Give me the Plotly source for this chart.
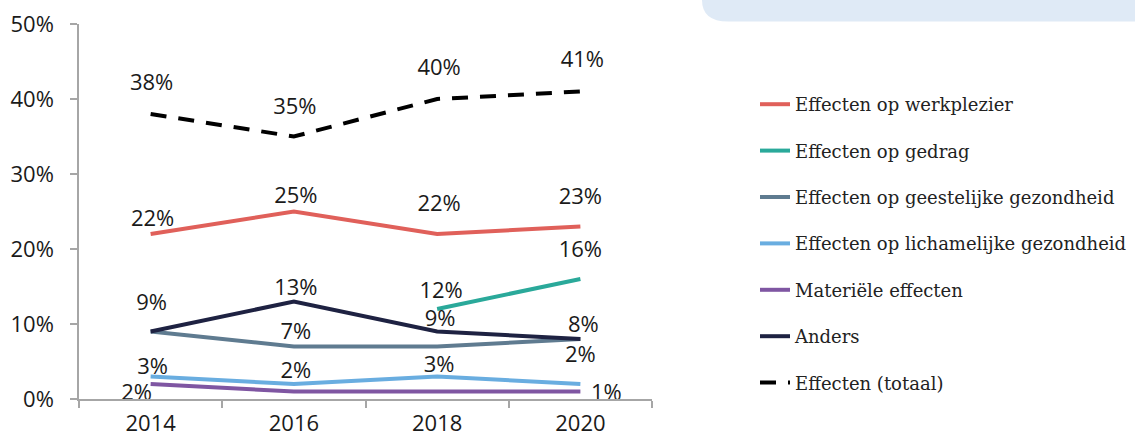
import plotly.graph_objects as go

PCT = "\u0025"

years = [2014, 2016, 2018, 2020]
x_boundaries = [2013, 2015, 2017, 2019, 2021]
series_names = [
    "Effecten op werkplezier",
    "Effecten op gedrag",
    "Effecten op geestelijke gezondheid",
    "Effecten op lichamelijke gezondheid",
    "Materiële effecten",
    "Anders",
    "Effecten (totaal)",
]
werkplezier = [22, 25, 22, 23]
gedrag = [None, None, 12, 16]
geestelijk = [9, 7, 7, 8]
lichamelijk = [3, 2, 3, 2]
materieel = [2, 1, 1, 1]
anders = [9, 13, 9, 8]
totaal = [38, 35, 40, 41]
y_ticks = [0, 10, 20, 30, 40, 50]

series_values = [werkplezier, gedrag, geestelijk, lichamelijk, materieel, anders, totaal]
colors = ["#e0605a", "#2aa99a", "#5f7b90", "#69ade0", "#7f56a2", "#1e2242", "#000000"]
dashes = ["solid"] * 6 + ["16px,12px"]

# label placement offsets in pixels (right, up); None = no label
label_offsets = [
    [(2, 14), (2, 14), (2, 29), (0, 28)],
    [None, None, (4, 17), (0, 28)],
    [None, (2, 13), None, None],
    [(2, 8), (2, 12), (2, 10), (0, 28)],
    [(-14, -10), None, None, (26, -3)],
    [(1, 27), (2, 12), (3, 11), (3, 13)],
    [(1, 30), (1, 28), (2, 30), (2, 30)],
]

L, R, T, B = 79, 483, 24, 39
W, H = 1135, 438
pw, ph = W - L - R, H - T - B
x_range = [2013, 2021]
y_range = [0, 50]
px_per_x = pw / (x_range[1] - x_range[0])
px_per_y = ph / (y_range[1] - y_range[0])

fig = go.Figure()
for i, (name, vals) in enumerate(zip(series_names, series_values)):
    fig.add_trace(go.Scatter(
        x=years, y=vals, mode="lines", name=name,
        line=dict(color=colors[i], width=4, dash=dashes[i]),
        legendgroup="g" + str(i), hoverinfo="skip",
    ))

label_font = dict(family="Open Sans", size=22, color="#1a1a1a")
for i, vals in enumerate(series_values):
    tx, ty, tt = [], [], []
    for j, v in enumerate(vals):
        off = label_offsets[i][j]
        if v is None or off is None:
            continue
        tx.append(years[j] + off[0] / px_per_x)
        ty.append(v + off[1] / px_per_y)
        tt.append(str(v) + PCT)
    fig.add_trace(go.Scatter(x=tx, y=ty, text=tt, mode="text",
                             textposition="middle center", textfont=label_font,
                             showlegend=False, hoverinfo="skip", cliponaxis=False))

# rounded light-blue band top-right
def px2paper(x, y):
    return (x - L) / pw, (H - B - y) / ph

x0, y0 = px2paper(702, 0)
x1, y1 = px2paper(1135, 21.5)
xc, _ = px2paper(728, 0)
path = "M {:.5f},{:.5f} L {:.5f},{:.5f} L {:.5f},{:.5f} L {:.5f},{:.5f} Q {:.5f},{:.5f} {:.5f},{:.5f} Z".format(
    x0, y0, x1, y0, x1, y1, xc, y1, x0, y1, x0, y0)

axis_col = "#a6a6a6"
fig.update_xaxes(range=x_range, tickmode="array", tickvals=years,
                 ticktext=[str(y) for y in years], showline=True, linecolor=axis_col,
                 linewidth=1.5, ticks="", showgrid=False, zeroline=False,
                 minor=dict(tickmode="array", tickvals=x_boundaries, ticks="outside",
                            ticklen=7, tickcolor=axis_col, tickwidth=1.5, showgrid=False),
                 tickfont=dict(family="Open Sans", size=22, color="#1a1a1a"),
                 ticklabelstandoff=4)
fig.update_yaxes(range=y_range, tickmode="array", tickvals=y_ticks,
                 ticktext=[str(t) + PCT for t in y_ticks], showline=True,
                 linecolor=axis_col, linewidth=1.5, ticks="outside", ticklen=7,
                 tickcolor=axis_col, tickwidth=1.5, showgrid=False, zeroline=False,
                 tickfont=dict(family="Open Sans", size=22, color="#1a1a1a"),
                 ticklabelstandoff=12)

fig.update_layout(
    width=W, height=H, margin=dict(l=L, r=R, t=T, b=B, autoexpand=False),
    paper_bgcolor="white", plot_bgcolor="white", showlegend=True,
    shapes=[dict(type="path", path=path, xref="paper", yref="paper",
                 fillcolor="#dfeaf6", line=dict(width=0), layer="below")],
    legend=dict(x=(755 - L) / pw, xanchor="left", y=(H - B - 86) / ph, yanchor="top",
                font=dict(family="DejaVu Serif", size=18, color="#222222"),
                tracegroupgap=20, itemwidth=30, bgcolor="rgba(0,0,0,0)"),
)

fig.write_html("out.html")
